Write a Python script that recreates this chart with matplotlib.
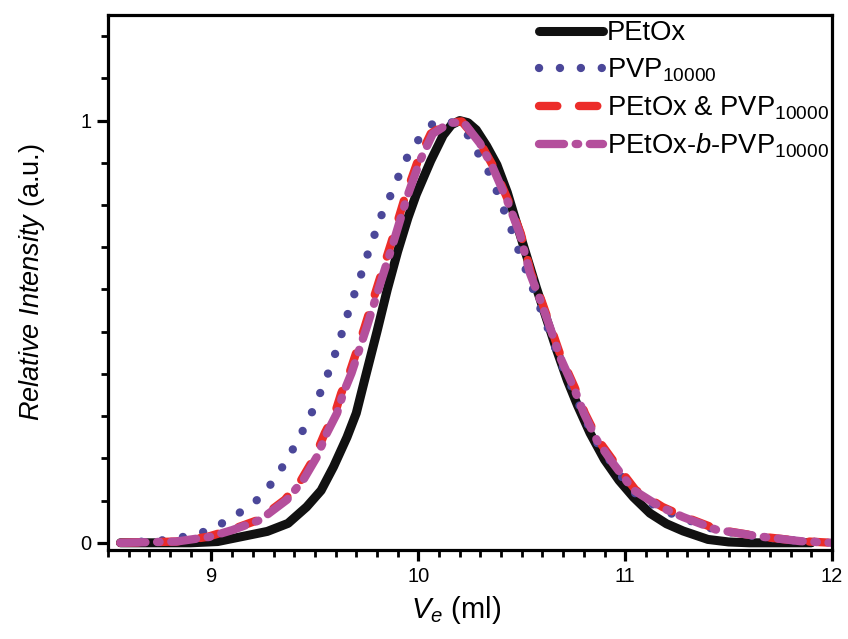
import numpy as np
import matplotlib.pyplot as plt
from matplotlib.ticker import MultipleLocator

plt.rcParams['font.family'] = ['Liberation Sans', 'DejaVu Sans']
plt.rcParams['mathtext.fontset'] = 'custom'
plt.rcParams['mathtext.rm'] = 'Liberation Sans'
plt.rcParams['mathtext.it'] = 'Liberation Sans:italic'

# elution volume (ml) / relative intensity
petox_x = [8.56, 8.90, 9.03, 9.14, 9.27, 9.37, 9.46, 9.53, 9.59, 9.655, 9.70, 9.74,
           9.80, 9.85, 9.90, 9.95, 9.99, 10.06, 10.12, 10.16, 10.20, 10.24, 10.28,
           10.33, 10.38, 10.43, 10.47, 10.52, 10.57, 10.62, 10.67, 10.72, 10.77,
           10.83, 10.90, 10.97, 11.04, 11.12, 11.20, 11.28, 11.40, 11.50, 11.60, 11.90]
petox_y = [0, 0, 0.003, 0.014, 0.027, 0.046, 0.085, 0.124, 0.18, 0.25, 0.307, 0.385,
           0.50, 0.60, 0.69, 0.77, 0.825, 0.905, 0.965, 0.99, 1.0, 0.995, 0.978,
           0.94, 0.895, 0.83, 0.765, 0.685, 0.605, 0.53, 0.455, 0.385, 0.325,
           0.26, 0.197, 0.148, 0.108, 0.07, 0.045, 0.028, 0.008, 0.002, 0, 0]

pvp_x = [8.56, 8.75, 8.83, 8.92, 9.017, 9.09, 9.16, 9.25, 9.307, 9.365, 9.413, 9.46,
         9.505, 9.54, 9.576, 9.62, 9.67, 9.72, 9.766, 9.80, 9.83, 9.873, 9.91, 9.95,
         10.008, 10.07, 10.12, 10.17, 10.235, 10.28, 10.33, 10.37, 10.40, 10.44,
         10.47, 10.54, 10.59, 10.64, 10.69, 10.75, 10.80, 10.86, 10.94, 11.04, 11.17,
         11.28, 11.44, 11.65, 11.85, 12.0]
pvp_y = [0, 0.005, 0.011, 0.019, 0.035, 0.059, 0.078, 0.113, 0.153, 0.196, 0.239, 0.283,
         0.329, 0.373, 0.416, 0.48, 0.56, 0.63, 0.70, 0.745, 0.787, 0.83, 0.875, 0.917,
         0.96, 0.993, 1.0, 0.995, 0.969, 0.93, 0.889, 0.846, 0.804, 0.757,
         0.712, 0.62, 0.555, 0.49, 0.425, 0.36, 0.30, 0.24, 0.185, 0.12, 0.08,
         0.058, 0.03, 0.014, 0.004, 0]

mix_x = [8.56, 8.83, 8.98, 9.09, 9.225, 9.355, 9.434, 9.50, 9.548, 9.597, 9.627, 9.667,
         9.74, 9.81, 9.868, 9.935, 9.998, 10.06, 10.145, 10.21, 10.30, 10.365, 10.435,
         10.495, 10.545, 10.595, 10.64, 10.69, 10.755, 10.805, 10.87, 10.95, 11.05,
         11.18, 11.29, 11.45, 11.65, 11.85, 12.0]
mix_y = [0, 0.003, 0.014, 0.03, 0.054, 0.102, 0.149, 0.204, 0.26, 0.307, 0.354, 0.402,
         0.51, 0.62, 0.709, 0.818, 0.905, 0.969, 0.995, 0.998, 0.946, 0.889, 0.81,
         0.733, 0.638, 0.574, 0.511, 0.44, 0.369, 0.307, 0.243, 0.189, 0.125,
         0.085, 0.061, 0.031, 0.015, 0.004, 0]

block_x = [8.56, 8.83, 8.99, 9.10, 9.235, 9.365, 9.444, 9.51, 9.558, 9.607, 9.637, 9.677,
           9.75, 9.82, 9.878, 9.945, 10.008, 10.07, 10.153, 10.22, 10.298, 10.36, 10.43,
           10.49, 10.54, 10.59, 10.636, 10.685, 10.75, 10.80, 10.863, 10.94, 11.04,
           11.17, 11.28, 11.44, 11.65, 11.845, 12.0]
block_y = [0, 0.003, 0.014, 0.03, 0.054, 0.102, 0.149, 0.204, 0.26, 0.307, 0.354, 0.402,
           0.51, 0.62, 0.709, 0.818, 0.905, 0.969, 0.995, 0.995, 0.946, 0.889, 0.81,
           0.733, 0.638, 0.574, 0.511, 0.44, 0.369, 0.307, 0.243, 0.189, 0.125,
           0.085, 0.061, 0.031, 0.015, 0.004, 0]

labels = ["PEtOx", r"PVP$_{\mathrm{10000}}$", r"PEtOx & PVP$_{\mathrm{10000}}$",
          r"PEtOx-$b$-PVP$_{\mathrm{10000}}$"]

fig = plt.figure(figsize=(8.48, 6.39), dpi=100)
ax = fig.add_axes([0.1274, 0.1393, 0.8538, 0.8372])

ax.plot(petox_x, petox_y, color="#111111", lw=6.5, solid_capstyle="round",
        solid_joinstyle="round", label=labels[0])
ax.plot(pvp_x, pvp_y, color="#4b4799", lw=6, linestyle=(0, (0.01, 2.5)),
        dash_capstyle="round", label=labels[1])
ax.plot(mix_x, mix_y, color="#ec2d2a", lw=6, linestyle=(0, (2.2, 2.6)),
        dash_capstyle="round", label=labels[2])
ax.plot(block_x, block_y, color="#b44f9c", lw=6, linestyle=(0, (3.0, 1.4, 0.3, 1.4)),
        dash_capstyle="round", label=labels[3])

ax.set_xlim(8.5, 12.0)
ax.set_ylim(-0.017, 1.25)
ax.xaxis.set_major_locator(MultipleLocator(1))
ax.xaxis.set_minor_locator(MultipleLocator(0.1))
ax.yaxis.set_major_locator(MultipleLocator(1))
ax.yaxis.set_minor_locator(MultipleLocator(0.1))

for s in ax.spines.values():
    s.set_linewidth(2.3)
ax.tick_params(which="major", direction="out", length=8, width=2.3, labelsize=14.5,
               pad=4)
ax.tick_params(which="minor", direction="out", length=5, width=2)

ax.set_xlabel(r"$V_e$ (ml)", fontsize=21, labelpad=6)
ax.xaxis.label.set_x(0.48)
ax.set_ylabel(r"$\mathit{Relative\ Intensity}$ (a.u.)", fontsize=19.5, labelpad=24)

ax.legend(loc="upper left", bbox_to_anchor=(0.587, 1.0), frameon=False, fontsize=19.7,
          handlelength=2.35, handletextpad=0.15, labelspacing=0.37, borderaxespad=0.1,
          borderpad=0.1)

fig.savefig("out.png", dpi=100)
